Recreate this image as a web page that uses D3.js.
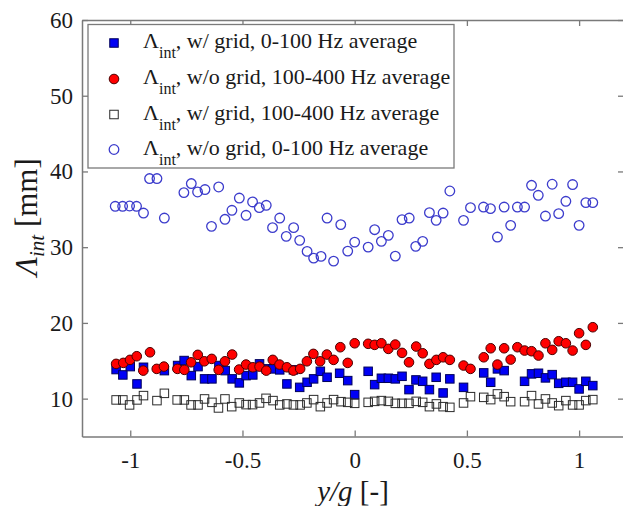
<!DOCTYPE html>
<html>
<head>
<meta charset="utf-8">
<script src="https://cdn.jsdelivr.net/npm/d3@7"></script>
<style>
  html, body { margin: 0; padding: 0; background: #fff; }
  svg { display: block; font-family: "Liberation Serif", "Times New Roman", serif; }
  svg text { font-family: "Liberation Serif", "Times New Roman", serif; }
</style>
</head>
<body>
<svg id="chart" width="623" height="506"></svg>
<script>
// Integral length scale across the span (y/g), four measurement sets.

// w/ grid, 0-100 Hz average (filled blue squares)
const gridLowX = [-1.063,-1.033,-1.000,-0.970,-0.941,-0.848,-0.789,-0.760,-0.728,-0.698,-0.669,-0.636,-0.605,-0.577,-0.546,-0.514,-0.484,-0.454,-0.424,-0.394,-0.364,-0.334,-0.302,-0.273,-0.245,-0.212,-0.183,-0.153,-0.123,-0.067,-0.031,0.000,0.060,0.089,0.119,0.150,0.181,0.211,0.242,0.273,0.303,0.333,0.363,0.394,0.424,0.485,0.575,0.606,0.636,0.666,0.757,0.788,0.819,0.850,0.880,0.909,0.941,0.971,1.000,1.030,1.061];
const gridLowY = [13.84,13.13,14.23,11.94,14.14,13.70,14.37,15.03,13.04,14.23,12.61,12.61,14.37,13.70,12.61,12.08,13.04,13.13,14.59,13.93,13.93,13.80,11.94,13.80,11.49,12.16,12.61,13.61,12.82,13.35,12.38,10.53,13.61,11.85,12.69,12.69,12.61,12.95,11.19,12.47,12.29,11.19,12.82,10.75,12.61,11.49,13.40,12.16,13.93,13.70,12.29,13.27,13.35,12.74,13.17,12.02,12.16,12.16,11.28,12.29,11.72];

// w/o grid, 100-400 Hz average (filled red circles)
const freeHighX = [-1.063,-1.031,-1.001,-0.971,-0.942,-0.912,-0.882,-0.850,-0.790,-0.759,-0.729,-0.699,-0.670,-0.637,-0.606,-0.578,-0.546,-0.515,-0.484,-0.454,-0.424,-0.394,-0.365,-0.335,-0.302,-0.273,-0.243,-0.213,-0.184,-0.154,-0.124,-0.094,-0.064,-0.031,0.000,0.060,0.089,0.119,0.150,0.181,0.211,0.242,0.274,0.303,0.333,0.364,0.394,0.424,0.485,0.516,0.575,0.606,0.636,0.666,0.695,0.725,0.757,0.788,0.819,0.850,0.880,0.909,0.941,0.971,1.000,1.030,1.061];
const freeHighY = [14.59,14.72,15.12,15.60,13.70,16.12,13.93,14.23,13.93,13.80,14.80,15.78,14.93,15.25,13.80,14.93,15.82,13.84,14.50,14.14,14.23,13.70,15.12,14.50,14.14,13.70,13.93,14.93,15.91,14.93,15.82,15.12,16.79,14.72,17.31,17.24,17.10,17.31,16.57,17.14,16.04,14.80,16.88,15.99,14.59,15.12,15.46,15.12,14.37,13.93,15.46,16.65,14.50,16.65,15.16,16.79,16.35,16.26,15.69,17.31,16.44,17.58,17.31,16.35,18.64,17.10,19.43];

// w/ grid, 100-400 Hz average (open black squares)
const gridHighX = [-1.063,-1.033,-1.003,-0.970,-0.941,-0.881,-0.848,-0.791,-0.759,-0.729,-0.698,-0.669,-0.636,-0.607,-0.578,-0.548,-0.514,-0.484,-0.455,-0.424,-0.395,-0.364,-0.334,-0.302,-0.273,-0.243,-0.213,-0.183,-0.153,-0.123,-0.094,-0.061,-0.031,0.000,0.060,0.089,0.119,0.150,0.181,0.211,0.242,0.274,0.303,0.333,0.364,0.394,0.424,0.485,0.516,0.575,0.606,0.636,0.666,0.695,0.757,0.788,0.819,0.850,0.880,0.909,0.941,0.971,1.000,1.030,1.061];
const gridHighY = [9.83,9.83,9.17,9.83,10.40,9.74,10.70,9.83,9.83,9.17,9.17,9.96,9.51,8.77,9.96,8.94,9.43,9.21,9.21,9.43,10.04,9.74,9.17,9.30,9.17,9.17,9.43,9.87,8.94,9.43,9.87,9.60,9.51,9.38,9.51,9.64,9.74,9.64,9.38,9.38,9.38,9.64,9.51,8.94,9.30,8.94,8.85,9.43,10.26,10.17,9.87,10.62,10.26,9.60,9.60,10.40,9.30,9.96,9.43,9.07,9.74,9.17,9.17,9.74,9.87];

// w/o grid, 0-100 Hz average (open blue circles)
const freeLowX = [-1.067,-1.034,-1.003,-0.972,-0.941,-0.914,-0.881,-0.848,-0.761,-0.728,-0.700,-0.667,-0.638,-0.606,-0.578,-0.547,-0.514,-0.484,-0.455,-0.425,-0.394,-0.366,-0.334,-0.305,-0.272,-0.245,-0.212,-0.183,-0.150,-0.123,-0.094,-0.062,-0.031,0.000,0.060,0.089,0.119,0.150,0.181,0.211,0.243,0.272,0.303,0.333,0.363,0.394,0.424,0.485,0.516,0.574,0.605,0.636,0.666,0.695,0.725,0.757,0.788,0.818,0.850,0.880,0.909,0.941,0.971,1.000,1.030,1.061];
const freeLowY = [35.40,35.40,35.44,35.40,34.51,39.06,39.06,33.85,37.21,38.40,37.29,37.61,32.75,37.95,33.68,34.87,36.49,34.21,35.97,35.22,35.53,32.58,33.85,31.43,32.58,30.90,29.44,28.56,28.78,33.85,28.16,32.98,29.48,30.67,30.01,32.31,30.77,31.56,28.82,33.64,33.85,30.11,30.77,34.56,33.54,34.51,37.42,33.54,35.22,35.30,35.09,31.34,35.30,32.88,35.30,35.30,38.17,36.85,34.11,38.31,34.43,36.06,38.27,32.88,35.89,35.89];

const xTicks = [-1, -0.5, 0, 0.5, 1];
const xTickLabels = ["-1", "-0.5", "0", "0.5", "1"];
const yTicks = [10, 20, 30, 40, 50, 60];

const legendLabels = [
  ", w/ grid, 0-100 Hz average",
  ", w/o grid, 100-400 Hz average",
  ", w/ grid, 100-400 Hz average",
  ", w/o grid, 0-100 Hz average"
];

const svg = d3.select("#chart");
const plotLeft = 82, plotRight = 624, plotTop = 20, plotBottom = 436.5;

const x = d3.scaleLinear().domain([-1.215, 1.2]).range([plotLeft, plotRight]);
const y = d3.scaleLinear().domain([5, 60]).range([plotBottom, plotTop]);

const axisGrey = "#7a7a7a";
const serif = "'Liberation Serif', 'Times New Roman', serif";

// Axis frame with inward ticks on all four sides
function styleAxis(g) {
  g.attr("font-family", serif).attr("font-size", 23);
  g.select(".domain").attr("stroke", axisGrey).attr("stroke-width", 1.5);
  g.selectAll(".tick line").attr("stroke", axisGrey).attr("stroke-width", 1.3);
  g.selectAll(".tick text").attr("fill", "#1a1a1a");
}

svg.append("g").attr("transform", `translate(0,${plotBottom})`)
  .call(d3.axisBottom(x).tickValues(xTicks).tickFormat((d, i) => xTickLabels[i])
    .tickSizeInner(-6).tickSizeOuter(0).tickPadding(15))
  .call(styleAxis);
svg.append("g").attr("transform", `translate(0,${plotTop})`)
  .call(d3.axisTop(x).tickValues(xTicks).tickFormat("").tickSizeInner(-6).tickSizeOuter(0))
  .call(styleAxis);
svg.append("g").attr("transform", `translate(${plotLeft},0)`)
  .call(d3.axisLeft(y).tickValues(yTicks).tickFormat(d3.format("d"))
    .tickSizeInner(-6).tickSizeOuter(0).tickPadding(9))
  .call(styleAxis);
svg.append("g").attr("transform", `translate(${plotRight},0)`)
  .call(d3.axisRight(y).tickValues(yTicks).tickFormat("").tickSizeInner(-6).tickSizeOuter(0))
  .call(styleAxis);

// Markers
const sq = 8.5, circR = 4.8;
const plot = svg.append("g");

function squares(xs, ys, fill, stroke) {
  plot.append("g").selectAll("rect").data(d3.zip(xs, ys)).join("rect")
    .attr("x", d => x(d[0]) - sq / 2).attr("y", d => y(d[1]) - sq / 2)
    .attr("width", sq).attr("height", sq)
    .attr("fill", fill).attr("stroke", stroke).attr("stroke-width", 1);
}
function circles(xs, ys, fill, stroke, sw) {
  plot.append("g").selectAll("circle").data(d3.zip(xs, ys)).join("circle")
    .attr("cx", d => x(d[0])).attr("cy", d => y(d[1])).attr("r", circR)
    .attr("fill", fill).attr("stroke", stroke).attr("stroke-width", sw);
}

squares(gridLowX, gridLowY, "#0000f5", "#00005a");
circles(freeHighX, freeHighY, "#ff0000", "#4a0000", 1);
squares(gridHighX, gridHighY, "none", "#2a2a2a");
circles(freeLowX, freeLowY, "none", "#3c3ccc", 1.3);

// Legend
const lg = svg.append("g");
lg.append("rect").attr("x", 88).attr("y", 24.5).attr("width", 366).attr("height", 143.5)
  .attr("fill", "#fff").attr("stroke", axisGrey).attr("stroke-width", 1.3);

const rowY = [43, 79, 114.5, 149.5];
const markerX = 114;
lg.append("rect").attr("x", markerX - sq / 2).attr("y", rowY[0] - sq / 2).attr("width", sq).attr("height", sq)
  .attr("fill", "#0000f5").attr("stroke", "#00005a");
lg.append("circle").attr("cx", markerX).attr("cy", rowY[1]).attr("r", circR)
  .attr("fill", "#ff0000").attr("stroke", "#4a0000");
lg.append("rect").attr("x", markerX - sq / 2).attr("y", rowY[2] - sq / 2).attr("width", sq).attr("height", sq)
  .attr("fill", "none").attr("stroke", "#2a2a2a");
lg.append("circle").attr("cx", markerX).attr("cy", rowY[3]).attr("r", circR)
  .attr("fill", "none").attr("stroke", "#3c3ccc").attr("stroke-width", 1.3);

legendLabels.forEach((lab, i) => {
  const t = lg.append("text").attr("x", 143).attr("y", rowY[i] + 5)
    .attr("fill", "#1a1a1a").style("font-size", "22px");
  t.append("tspan").text("Λ");
  t.append("tspan").attr("dy", 10).style("font-size", "16px").text("int");
  t.append("tspan").attr("dy", -10).text(lab);
});

// Axis titles
const xt = svg.append("text").attr("x", 353).attr("y", 501).attr("text-anchor", "middle")
  .attr("fill", "#1a1a1a").style("font-size", "29px");
xt.append("tspan").style("font-style", "italic").text("y/g");
xt.append("tspan").text(" [-]");

const yt = svg.append("text").attr("transform", "translate(37,217) rotate(-90)")
  .attr("text-anchor", "middle").attr("fill", "#1a1a1a").style("font-size", "31px");
yt.append("tspan").style("font-style", "italic").text("Λ");
yt.append("tspan").attr("dy", 7).style("font-style", "italic").style("font-size", "21px").text("int");
yt.append("tspan").attr("dy", -7).text(" [mm]");
</script>
</body>
</html>
